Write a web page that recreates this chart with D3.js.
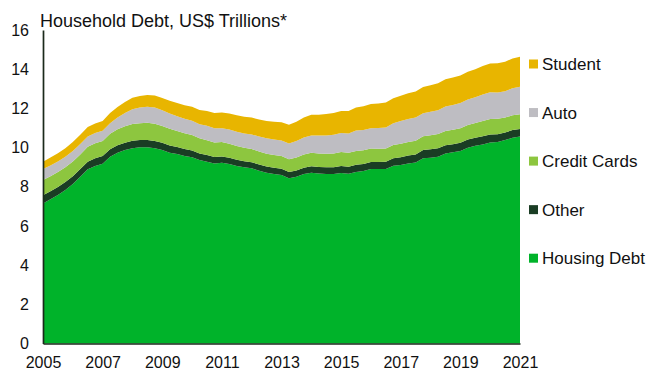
<!DOCTYPE html>
<html>
<head>
<meta charset="utf-8">
<script src="https://cdn.jsdelivr.net/npm/d3@7"></script>
<style>
  html, body { margin: 0; padding: 0; background: #ffffff; }
  svg { display: block; font-family: "Liberation Sans", Arial, sans-serif; }
</style>
</head>
<body>
<svg id="chart" width="647" height="371"></svg>
<script>
// Quarterly household debt by type, US$ trillions, 2005 Q1 – 2021 Q1
const startYear = 2005;

const housing = [7.15,7.36,7.58,7.83,8.14,8.51,8.89,9.06,9.18,9.53,9.74,9.87,9.97,10.01,10.01,9.96,9.87,9.74,9.67,9.57,9.50,9.36,
  9.28,9.19,9.23,9.16,9.06,8.99,8.94,8.82,8.72,8.65,8.60,8.43,8.51,8.65,8.72,8.68,8.65,8.65,8.70,8.66,8.75,
  8.80,8.90,8.90,8.90,9.07,9.11,9.19,9.24,9.45,9.48,9.53,9.70,9.76,9.82,9.99,10.09,10.16,10.26,10.29,10.38,10.50,10.57];

const other = [0.42,0.41,0.41,0.41,0.40,0.39,0.39,0.39,0.39,0.38,0.38,0.38,0.38,0.37,0.37,0.38,0.37,0.37,0.36,0.36,0.35,0.34,
  0.34,0.33,0.32,0.32,0.32,0.31,0.31,0.31,0.31,0.32,0.32,0.32,0.32,0.32,0.33,0.33,0.34,0.35,0.36,0.36,0.37,
  0.36,0.36,0.36,0.37,0.38,0.40,0.41,0.41,0.42,0.43,0.43,0.42,0.41,0.42,0.42,0.41,0.42,0.41,0.39,0.39,0.39,0.38];

const creditCards = [0.78,0.77,0.76,0.75,0.75,0.75,0.76,0.77,0.77,0.79,0.81,0.84,0.85,0.86,0.88,0.88,0.86,0.85,0.82,0.80,0.79,0.77,
  0.75,0.74,0.73,0.72,0.70,0.69,0.68,0.67,0.66,0.65,0.65,0.65,0.66,0.67,0.68,0.69,0.70,0.70,0.71,0.71,0.70,
  0.70,0.69,0.68,0.68,0.68,0.68,0.69,0.70,0.71,0.72,0.73,0.73,0.74,0.74,0.74,0.75,0.77,0.79,0.79,0.76,0.76,0.75];

const autoLoans = [0.55,0.55,0.54,0.54,0.54,0.53,0.53,0.52,0.52,0.54,0.60,0.68,0.76,0.80,0.82,0.82,0.80,0.78,0.75,0.74,0.73,0.72,
  0.74,0.72,0.71,0.72,0.73,0.73,0.74,0.76,0.78,0.79,0.79,0.81,0.84,0.87,0.89,0.91,0.93,0.96,0.97,0.99,1.05,
  1.04,1.04,1.06,1.08,1.11,1.16,1.17,1.18,1.17,1.20,1.22,1.25,1.26,1.29,1.30,1.32,1.36,1.36,1.34,1.35,1.38,1.40];

const student = [0.38,0.40,0.42,0.44,0.46,0.47,0.48,0.49,0.50,0.52,0.54,0.56,0.58,0.59,0.60,0.62,0.63,0.65,0.67,0.69,0.71,0.73,
  0.75,0.78,0.80,0.82,0.84,0.85,0.86,0.87,0.89,0.91,0.93,0.96,0.99,1.02,1.05,1.07,1.09,1.11,1.13,1.15,1.18,
  1.21,1.23,1.25,1.27,1.28,1.30,1.31,1.33,1.34,1.35,1.37,1.39,1.40,1.41,1.42,1.43,1.45,1.47,1.49,1.50,1.52,1.54];

// Stack order bottom → top, with display names and fills
const seriesKeys   = ["housing", "other", "creditCards", "autoLoans", "student"];
const seriesNames  = ["Housing Debt", "Other", "Credit Cards", "Auto", "Student"];
const seriesColors = ["#00b32a", "#1a3d24", "#8dc63f", "#bebdc2", "#e8b500"];

const yearTicks = [2005, 2007, 2009, 2011, 2013, 2015, 2017, 2019, 2021];
const valueTicks = [0, 2, 4, 6, 8, 10, 12, 14, 16];
const titleText = "Household Debt, US$ Trillions*";

// Build one row per quarter
const columns = { housing, other, creditCards, autoLoans, student };
const rows = housing.map((_, i) => {
  const r = { year: startYear + i / 4 };
  seriesKeys.forEach(k => { r[k] = columns[k][i]; });
  return r;
});

const svg = d3.select("#chart");
const plot = { left: 43, right: 520, top: 30, bottom: 343.5 };

const x = d3.scaleLinear().domain([2005, 2021]).range([plot.left, plot.right]);
const y = d3.scaleLinear().domain([0, 16]).range([plot.bottom, plot.top]);

const stacked = d3.stack().keys(seriesKeys)(rows);

const area = d3.area()
  .x(d => x(d.data.year))
  .y0(d => y(d[0]))
  .y1(d => y(d[1]))
  .curve(d3.curveLinear);

svg.append("g")
  .selectAll("path")
  .data(stacked)
  .join("path")
  .attr("d", area)
  .attr("fill", (d, i) => seriesColors[i]);

// Axes
const yAxis = d3.axisLeft(y).tickValues(valueTicks).tickSize(0).tickPadding(14);
const xAxis = d3.axisBottom(x).tickValues(yearTicks).tickFormat(d3.format("d")).tickSize(0).tickPadding(13.5);

const gy = svg.append("g").attr("transform", `translate(${plot.left},0)`).call(yAxis);
const gx = svg.append("g").attr("transform", `translate(0,${plot.bottom})`).call(xAxis);

[gx, gy].forEach(g => {
  g.select(".domain").attr("stroke", "#1b2a1b").attr("stroke-width", 1.7);
  g.selectAll("text").attr("fill", "#111").style("font-size", "16px")
    .style("font-family", "'Liberation Sans', Arial, sans-serif");
});

// Title
svg.append("text")
  .attr("x", 40)
  .attr("y", 26.5)
  .attr("fill", "#111")
  .style("font-size", "18px")
  .text(titleText);

// Legend, listed top → bottom in reverse stack order
const legendItems = seriesKeys.map((k, i) => ({ name: seriesNames[i], color: seriesColors[i] })).reverse();
const legend = svg.append("g")
  .selectAll("g")
  .data(legendItems)
  .join("g")
  .attr("transform", (d, i) => `translate(529,${64 + i * 48.55})`);

legend.append("rect")
  .attr("x", 0).attr("y", -4.5)
  .attr("width", 9).attr("height", 9)
  .attr("fill", d => d.color);

legend.append("text")
  .attr("x", 13)
  .attr("y", 0)
  .attr("dy", "0.35em")
  .attr("fill", "#111")
  .style("font-size", "17px")
  .text(d => d.name);
</script>
</body>
</html>
